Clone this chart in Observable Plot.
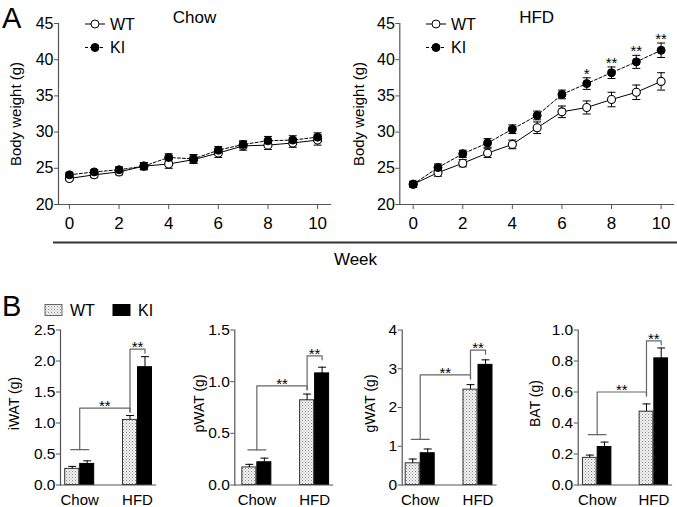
<!DOCTYPE html>
<html>
<head>
<meta charset="utf-8">
<script src="https://cdn.jsdelivr.net/npm/d3@7"></script>
<script src="https://cdn.jsdelivr.net/npm/@observablehq/plot@0.6"></script>
<style>
  body { margin: 0; background: #fff; }
  #fig { position: relative; width: 677px; height: 507px; overflow: hidden; background: #fff; font-family: "Liberation Sans", Arial, sans-serif; }
  #fig svg.panel { position: absolute; }
</style>
</head>
<body>
<svg width="0" height="0" style="position:absolute">
  <defs>
    <pattern id="dots" width="3" height="3" patternUnits="userSpaceOnUse">
      <rect width="3" height="3" fill="#f2f2f2"></rect>
      <rect x="0" y="0" width="1" height="1" fill="#8a8a8a"></rect>
      <rect x="1.5" y="1.5" width="1" height="1" fill="#b0b0b0"></rect>
    </pattern>
  </defs>
</svg>
<div id="fig"></div>
<script>
// ---------- Panel A data ----------
const weeks = [0, 1, 2, 3, 4, 5, 6, 7, 8, 9, 10];
const weekTicks = [0, 2, 4, 6, 8, 10];
const bwTicks = [20, 25, 30, 35, 40, 45];
const chowWT    = [23.6, 24.1, 24.5, 25.3, 25.6, 26.2, 27.1, 28.1, 28.2, 28.5, 28.9];
const chowWTErr = [0.3, 0.4, 0.4, 0.5, 0.6, 0.5, 0.6, 0.6, 0.6, 0.6, 0.7];
const chowKI    = [24.1, 24.5, 24.8, 25.3, 26.5, 26.3, 27.5, 28.3, 28.8, 28.9, 29.3];
const chowKIErr = [0.3, 0.3, 0.4, 0.5, 0.5, 0.6, 0.5, 0.5, 0.6, 0.6, 0.6];
const hfdWT     = [22.8, 24.4, 25.7, 27.1, 28.3, 30.6, 32.8, 33.4, 34.5, 35.5, 37.0];
const hfdWTErr  = [0.4, 0.5, 0.5, 0.6, 0.6, 0.8, 0.8, 0.9, 1.0, 1.0, 1.2];
const hfdKI     = [22.8, 25.1, 27.0, 28.5, 30.4, 32.3, 35.2, 36.7, 38.2, 39.7, 41.3];
const hfdKIErr  = [0.4, 0.5, 0.5, 0.6, 0.6, 0.6, 0.6, 0.8, 0.8, 0.9, 1.0];
const hfdStarWeeks  = [7, 8, 9, 10];
const hfdStarLabels = ["*", "**", "**", "**"];

// ---------- Panel B data (order: Chow WT, Chow KI, HFD WT, HFD KI) ----------
const depots = ["iWAT", "pWAT", "gWAT", "BAT"];
const diets = ["Chow", "HFD"];
const genotypes = ["WT", "KI"];
const iWAT = [0.26, 0.34, 1.05, 1.90];  const iWATErr = [0.04, 0.05, 0.07, 0.17];
const pWAT = [0.17, 0.22, 0.82, 1.08];  const pWATErr = [0.03, 0.04, 0.06, 0.06];
const gWAT = [0.56, 0.82, 2.46, 3.10];  const gWATErr = [0.11, 0.11, 0.13, 0.13];
const BAT  = [0.175, 0.245, 0.473, 0.817]; const BATErr = [0.018, 0.032, 0.05, 0.067];
const depotMax = [2.5, 1.5, 4, 1.0];
const depotTicks = [[0, 0.5, 1, 1.5, 2, 2.5], [0, 0.5, 1, 1.5], [0, 1, 2, 3, 4], [0, 0.2, 0.4, 0.6, 0.8, 1.0]];
const depotFormat = [".1f", ".1f", "d", ".1f"];
const chowBracket = [0.57, 0.34, 1.18, 0.325];
const dietBracket = [1.24, 0.96, 2.84, 0.60];
const genoBracket = [2.19, 1.25, 3.48, 0.93];
const sigLabel = "**";

const FONT = "Liberation Sans, Arial, sans-serif";
const AXIS = "#555";
const fig = d3.select("#fig");

const capSymbol = {
  draw(ctx, size) { const r = Math.sqrt(size / Math.PI); ctx.moveTo(-r, 0); ctx.lineTo(r, 0); }
};

// ---------- Panel A ----------
function bodyPanel(o) {
  const rows = weeks.map((w, i) => ({week: w, wt: o.wt[i], wtE: o.wtErr[i], ki: o.ki[i], kiE: o.kiErr[i]}));
  const stars = (o.starWeeks || []).map((w, i) => {
    const r = rows.find(d => d.week === w);
    return {week: w, y: r.ki + r.kiE, label: o.starLabels[i]};
  });
  const svg = Plot.plot({
    width: o.width, height: 240,
    marginLeft: o.marginLeft, marginRight: o.marginRight, marginTop: 23, marginBottom: 36,
    x: {domain: o.xDomain, axis: null},
    y: {domain: [20, 45], axis: null},
    style: {fontFamily: FONT, background: "transparent", color: "#000"},
    marks: [
      Plot.frame({anchor: "left", stroke: AXIS, strokeWidth: 1.2}),
      Plot.frame({anchor: "bottom", stroke: AXIS, strokeWidth: 1.2}),
      Plot.axisX({ticks: weekTicks, tickSize: 5, tickPadding: 7, fontSize: 17, stroke: AXIS, fill: "#000", label: null}),
      Plot.axisY({ticks: bwTicks, tickSize: 4, tickPadding: 1, fontSize: 16, stroke: AXIS, fill: "#000", label: null}),
      Plot.text(["Body weight (g)"], {frameAnchor: "left", textAnchor: "middle", rotate: -90, dx: -o.labelDx, fontSize: 15, fill: "#000"}),
      Plot.text([o.title], {frameAnchor: "top", dy: -13, fontSize: 17, fill: "#000"}),
      Plot.line(rows, {x: "week", y: "wt", stroke: "#000", strokeWidth: 1}),
      Plot.line(rows, {x: "week", y: "ki", stroke: "#000", strokeWidth: 1, strokeDasharray: "3,2"}),
      Plot.ruleX(rows, {x: "week", y1: d => d.wt - d.wtE, y2: d => d.wt + d.wtE, stroke: "#000", strokeWidth: 1}),
      Plot.dot(rows, {x: "week", y: d => d.wt - d.wtE, symbol: capSymbol, r: 4, fill: "none", stroke: "#000", strokeWidth: 1}),
      Plot.dot(rows, {x: "week", y: d => d.wt + d.wtE, symbol: capSymbol, r: 4, fill: "none", stroke: "#000", strokeWidth: 1}),
      Plot.ruleX(rows, {x: "week", y1: d => d.ki - d.kiE, y2: d => d.ki + d.kiE, stroke: "#000", strokeWidth: 1}),
      Plot.dot(rows, {x: "week", y: d => d.ki - d.kiE, symbol: capSymbol, r: 4, fill: "none", stroke: "#000", strokeWidth: 1}),
      Plot.dot(rows, {x: "week", y: d => d.ki + d.kiE, symbol: capSymbol, r: 4, fill: "none", stroke: "#000", strokeWidth: 1}),
      Plot.dot(rows, {x: "week", y: "wt", r: 4, fill: "#fff", stroke: "#000", strokeWidth: 1.1}),
      Plot.dot(rows, {x: "week", y: "ki", r: 4, fill: "#000", stroke: "#000", strokeWidth: 1}),
      Plot.text(stars, {x: "week", y: "y", text: "label", lineAnchor: "bottom", dy: 1, fontSize: 15, fill: "#000"})
    ]
  });
  d3.select(svg).attr("class", "panel").style("left", o.left + "px").style("top", "0px");
  // in-plot legend
  const g = d3.select(svg).append("g").attr("text-anchor", "start");
  const L = o.legendX;
  [{y: 24, label: "WT", fill: "#fff", dash: null}, {y: 47.5, label: "KI", fill: "#000", dash: "3,2"}].forEach(e => {
    g.append("line").attr("x1", L).attr("x2", L + 20).attr("y1", e.y).attr("y2", e.y)
      .attr("stroke", "#000").attr("stroke-dasharray", e.dash);
    g.append("circle").attr("cx", L + 10).attr("cy", e.y).attr("r", 4).attr("fill", e.fill).attr("stroke", "#000");
    g.append("text").attr("x", L + 25).attr("y", e.y + 5.7).attr("font-size", 16)
      .attr("font-family", FONT).attr("text-anchor", "start").text(e.label);
  });
  fig.node().appendChild(svg);
}

bodyPanel({title: "Chow", wt: chowWT, wtErr: chowWTErr, ki: chowKI, kiErr: chowKIErr,
  left: 0, width: 340, marginLeft: 58, marginRight: 10, xDomain: [-0.44, 10.52], labelDx: 42, legendX: 85});
bodyPanel({title: "HFD", wt: hfdWT, wtErr: hfdWTErr, ki: hfdKI, kiErr: hfdKIErr,
  starWeeks: hfdStarWeeks, starLabels: hfdStarLabels,
  left: 340, width: 337, marginLeft: 59.3, marginRight: 4, xDomain: [-0.54, 10.5], labelDx: 40.3, legendX: 86});

// ---------- Panel B ----------
const depotMeans = [iWAT, pWAT, gWAT, BAT];
const depotErrs = [iWATErr, pWATErr, gWATErr, BATErr];
const groupStep = 3.85;
const pos = (di, gi) => di * groupStep + gi;
const layoutB = [
  {left: 0,   width: 170, marginLeft: 60,   marginRight: 15,  xMin: -0.78, labelDx: 46},
  {left: 170, width: 170, marginLeft: 64.3, marginRight: 7.9, xMin: -0.97, labelDx: 35.3},
  {left: 340, width: 170, marginLeft: 61.7, marginRight: 14.5, xMin: -0.70, labelDx: 31.7},
  {left: 510, width: 167, marginLeft: 67.7, marginRight: 6,   xMin: -0.79, labelDx: 42.7}
];

depots.forEach((name, k) => {
  const lay = layoutB[k];
  const rows = [];
  diets.forEach((diet, di) => genotypes.forEach((geno, gi) => {
    const idx = di * 2 + gi;
    rows.push({diet, geno, pos: pos(di, gi), mean: depotMeans[k][idx], err: depotErrs[k][idx]});
  }));
  const yMax = depotMax[k];
  const plotH = 155;
  const px = yMax / plotH; // data units per pixel
  const chowC = pos(0, 0.5), hfdWTx = pos(1, 0), hfdKIx = pos(1, 1);
  const b0 = chowBracket[k], b1 = dietBracket[k], b2 = genoBracket[k];
  const leg = 4 * px;
  const bracketPaths = [
    [{x: chowC - 0.6, y: b0}, {x: chowC + 0.6, y: b0}],
    [{x: chowC, y: b0}, {x: chowC, y: b1}, {x: hfdWTx, y: b1}, {x: hfdWTx, y: b1 - leg}],
    [{x: hfdWTx, y: b1 - leg}, {x: hfdWTx, y: b2}, {x: hfdKIx, y: b2}, {x: hfdKIx, y: b2 - leg}]
  ];
  const stars = [
    {x: (chowC + hfdWTx) / 2, y: b1, label: sigLabel},
    {x: (hfdWTx + hfdKIx) / 2, y: b2, label: sigLabel}
  ];
  const ticksX = diets.map((d, di) => ({x: pos(di, 0.5), label: d}));
  const svg = Plot.plot({
    width: lay.width, height: 207,
    marginLeft: lay.marginLeft, marginRight: lay.marginRight, marginTop: 29.5, marginBottom: 22.5,
    x: {domain: [lay.xMin, pos(1, 1) + 0.7], axis: null},
    y: {domain: [0, yMax], axis: null},
    style: {fontFamily: FONT, background: "transparent", color: "#000"},
    marks: [
      Plot.rectY(rows.filter(d => d.geno === "WT"), {x1: d => d.pos - 0.5, x2: d => d.pos + 0.5, y: "mean",
        fill: "url(#dots)", stroke: "#333", strokeWidth: 1, insetLeft: 0.5, insetRight: 0.5}),
      Plot.rectY(rows.filter(d => d.geno === "KI"), {x1: d => d.pos - 0.5, x2: d => d.pos + 0.5, y: "mean",
        fill: "#000", stroke: "#000", strokeWidth: 1, insetLeft: 0.5, insetRight: 0.5}),
      Plot.ruleX(rows, {x: "pos", y1: "mean", y2: d => d.mean + d.err, stroke: "#000", strokeWidth: 1}),
      Plot.dot(rows, {x: "pos", y: d => d.mean + d.err, symbol: capSymbol, r: 4, fill: "none", stroke: "#000", strokeWidth: 1}),
      ...bracketPaths.map(p => Plot.line(p, {x: "x", y: "y", stroke: "#666", strokeWidth: 1.2})),
      Plot.text(stars, {x: "x", y: "y", text: "label", lineAnchor: "bottom", dy: 3, fontSize: 15, fill: "#000"}),
      Plot.frame({anchor: "left", stroke: AXIS, strokeWidth: 1.2}),
      Plot.frame({anchor: "bottom", stroke: AXIS, strokeWidth: 1.2}),
      Plot.axisY({ticks: depotTicks[k], tickFormat: depotFormat[k], tickSize: 4, tickPadding: 1, fontSize: 15.5,
        stroke: AXIS, fill: "#000", label: null}),
      Plot.text(ticksX, {x: "x", text: "label", frameAnchor: "bottom", lineAnchor: "middle", dy: 15.5, fontSize: 15, fill: "#000"}),
      Plot.text([name + " (g)"], {frameAnchor: "left", textAnchor: "middle", rotate: -90, dx: -lay.labelDx, dy: -4, fontSize: 14, fill: "#000"})
    ]
  });
  d3.select(svg).attr("class", "panel").style("left", lay.left + "px").style("top", "300px");
  fig.node().appendChild(svg);
});

// ---------- overlay: panel letters, shared axis title, legend B ----------
const ov = fig.append("svg").attr("class", "panel").attr("width", 677).attr("height", 507)
  .style("left", "0px").style("top", "0px").style("pointer-events", "none");
ov.append("text").attr("x", 2).attr("y", 27.5).attr("font-size", 29).attr("font-family", FONT).text("A");
ov.append("text").attr("x", 2).attr("y", 315.5).attr("font-size", 29).attr("font-family", FONT).text("B");
ov.append("line").attr("x1", 53).attr("x2", 677).attr("y1", 242.5).attr("y2", 242.5).attr("stroke", "#333").attr("stroke-width", 2);
ov.append("text").attr("x", 355.5).attr("y", 265).attr("text-anchor", "middle").attr("font-size", 17).attr("font-family", FONT).text("Week");
const legB = [{g: genotypes[0], x: 45, fill: "url(#dots)", stroke: "#666"}, {g: genotypes[1], x: 113, fill: "#000", stroke: "#000"}];
legB.forEach(e => {
  ov.append("rect").attr("x", e.x).attr("y", 304.5).attr("width", 17).attr("height", 11).attr("fill", e.fill).attr("stroke", e.stroke);
  ov.append("text").attr("x", e.x + 25).attr("y", 316).attr("font-size", 16).attr("font-family", FONT).text(e.g);
});
</script>
</body>
</html>
